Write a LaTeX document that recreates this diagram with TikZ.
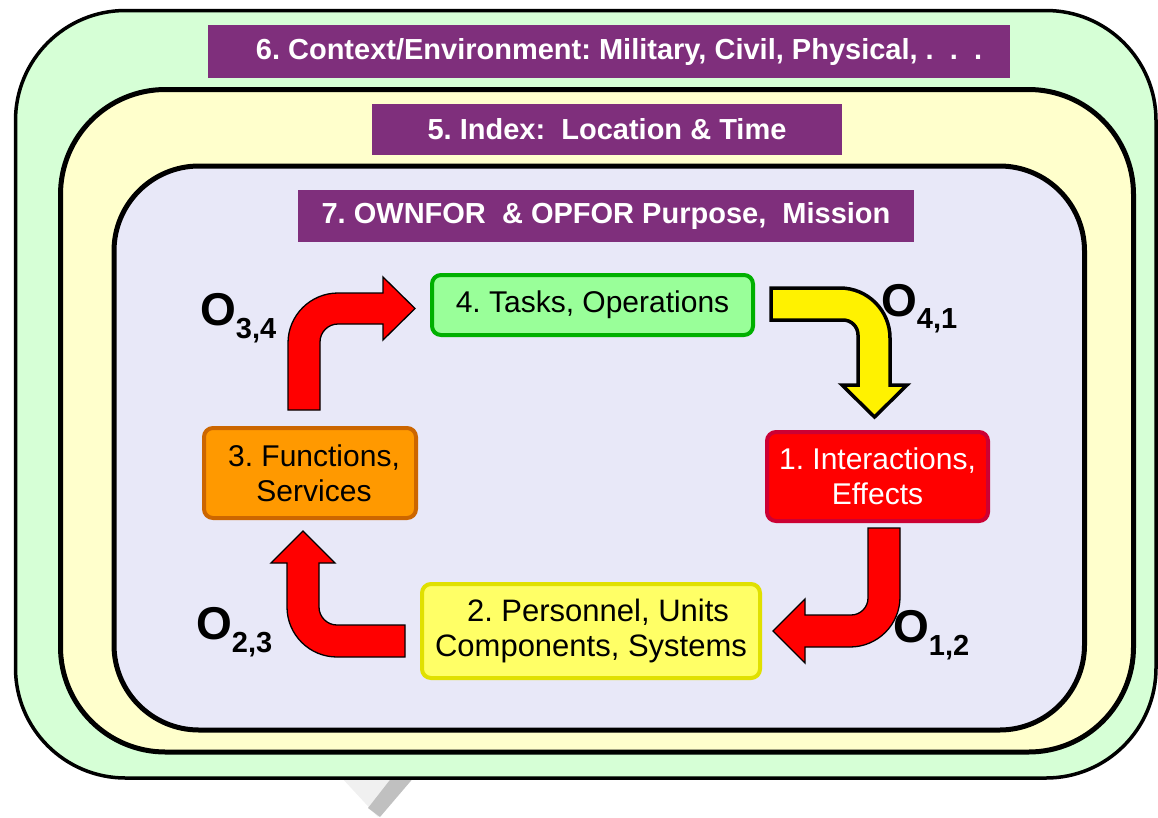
\documentclass[tikz,border=0pt]{standalone}
\usepackage{fontspec}
\setmainfont{Liberation Sans}
\frenchspacing
\definecolor{outergreen}{RGB}{214,255,214}
\definecolor{paleyellow}{RGB}{255,255,204}
\definecolor{lavender}{RGB}{232,232,248}
\definecolor{barpurple}{RGB}{127,47,124}
\definecolor{tasksfill}{RGB}{153,255,153}
\definecolor{tasksline}{RGB}{0,176,0}
\definecolor{interfill}{RGB}{255,0,0}
\definecolor{interline}{RGB}{204,0,51}
\definecolor{funcfill}{RGB}{255,153,0}
\definecolor{funcline}{RGB}{204,102,0}
\definecolor{persfill}{RGB}{255,255,102}
\definecolor{persline}{RGB}{224,224,0}
\definecolor{taillight}{RGB}{240,240,240}
\definecolor{taildark}{RGB}{192,192,192}
\begin{document}
\frenchspacing
\begin{tikzpicture}[x=1pt,y=-1pt,
  bar/.style={fill=barpurple, text=white, font=\fontsize{29}{34}\selectfont\bfseries\frenchspacing, inner sep=0pt},
  stepbox/.style={rounded corners=9pt, line width=4pt, align=center, inner sep=0pt, font=\fontsize{30}{35}\selectfont\frenchspacing},
  redarrow/.style={fill=red, draw=black, line width=1.3pt, line join=miter},
  yellowarrow/.style={fill=yellow, draw=black, line width=3.5pt, line join=miter},
  olabel/.style={anchor=base west, inner sep=0pt, font=\fontsize{46}{46}\selectfont\bfseries}
]
\useasboundingbox (0,0) rectangle (1158,817);
% speech-bubble tail below the outer frame
\fill[taillight] (340,776) -- (415,776) -- (378,817) -- cycle;
\fill[taildark] (393,776) -- (415,776) -- (380,817) -- (368,808) -- cycle;
% nested frames
\draw[fill=outergreen, line width=3.5pt, rounded corners=110pt] (15.5,10.5) rectangle (1156,778);
\draw[fill=paleyellow, line width=5pt, rounded corners=105pt] (60.5,89.5) rectangle (1133.5,752);
\draw[fill=lavender, line width=5pt, rounded corners=85pt] (114,166) rectangle (1084.5,730);
% purple title bars
\node[bar, minimum width=802pt, minimum height=53pt] (ctx) at (609,51.5) {\raisebox{-2pt}{\hspace*{20pt}6. Context/Environment: Military, Civil, Physical, . \ . \ .}};
\node[bar, minimum width=470pt, minimum height=51pt] (idx) at (607,129.5) {5. Index:\ \ Location \& Time};
\node[bar, minimum width=616pt, minimum height=52pt] (mis) at (606,216) {\raisebox{-2pt}{7. OWNFOR\ \ \& OPFOR Purpose,\ \ Mission}};
% step boxes
\node[stepbox, fill=tasksfill, draw=tasksline, minimum width=321pt, minimum height=60pt] (tasks) at (592.5,305) {\raisebox{2pt}{4. Tasks, Operations}};
\node[stepbox, fill=interfill, draw=interline, text=white, minimum width=221pt, minimum height=89pt] (inter) at (877.5,476.5) {1. Interactions,\\Effects};
\node[stepbox, fill=funcfill, draw=funcline, minimum width=212pt, minimum height=90pt] (func) at (310,473) {\hspace*{8pt}3. Functions,\\\hspace*{8pt}Services};
\node[stepbox, fill=persfill, draw=persline, minimum width=338pt, minimum height=94pt, font=\fontsize{31}{35}\selectfont\frenchspacing] (pers) at (591,631) {\hspace*{14pt}2. Personnel, Units\\Components, Systems};
% block arrows
% O34: functions -> tasks
\draw[redarrow] (288,410) -- (288,343) .. controls (288,315.4) and (310.4,293) .. (338,293)
  -- (383,293) -- (383,277) -- (415,308.5) -- (383,340) -- (383,324) -- (338,324)
  .. controls (328.1,324) and (320,332.1) .. (320,342) -- (320,410) -- cycle;
% O41: tasks -> interactions
\draw[yellowarrow] (771,288) -- (840,288) .. controls (867.6,288) and (890,310.4) .. (890,338)
  -- (890,385) -- (907,385) -- (874.5,417) -- (842,385) -- (858,385) -- (858,335)
  .. controls (858,326.7) and (851.3,320) .. (843,320) -- (771,320) -- cycle;
% O12: interactions -> personnel
\draw[redarrow] (868,528) -- (900,528) -- (900,597) .. controls (900,624.6) and (877.6,647) .. (850,647)
  -- (805,647) -- (805,663) -- (773,631) -- (805,599) -- (805,615) -- (851,615)
  .. controls (860.4,615) and (868,607.4) .. (868,598) -- cycle;
% O23: personnel -> functions
\draw[redarrow] (405,625) -- (337,625) .. controls (327.1,625) and (319,616.9) .. (319,607)
  -- (319,563) -- (335,563) -- (303,531) -- (271,563) -- (287,563) -- (287,607)
  .. controls (287,634.6) and (309.4,657) .. (337,657) -- (405,657) -- cycle;
% operator labels
\node[olabel] (o34) at (200,325) {O\raisebox{-13pt}{\fontsize{29}{29}\selectfont 3,4}};
\node[olabel] (o41) at (881,316) {O\raisebox{-12pt}{\fontsize{29}{29}\selectfont 4,1}};
\node[olabel] (o12) at (893,642) {O\raisebox{-13pt}{\fontsize{29}{29}\selectfont 1,2}};
\node[olabel] (o23) at (196,639) {O\raisebox{-13pt}{\fontsize{29}{29}\selectfont 2,3}};
\end{tikzpicture}
\end{document}
